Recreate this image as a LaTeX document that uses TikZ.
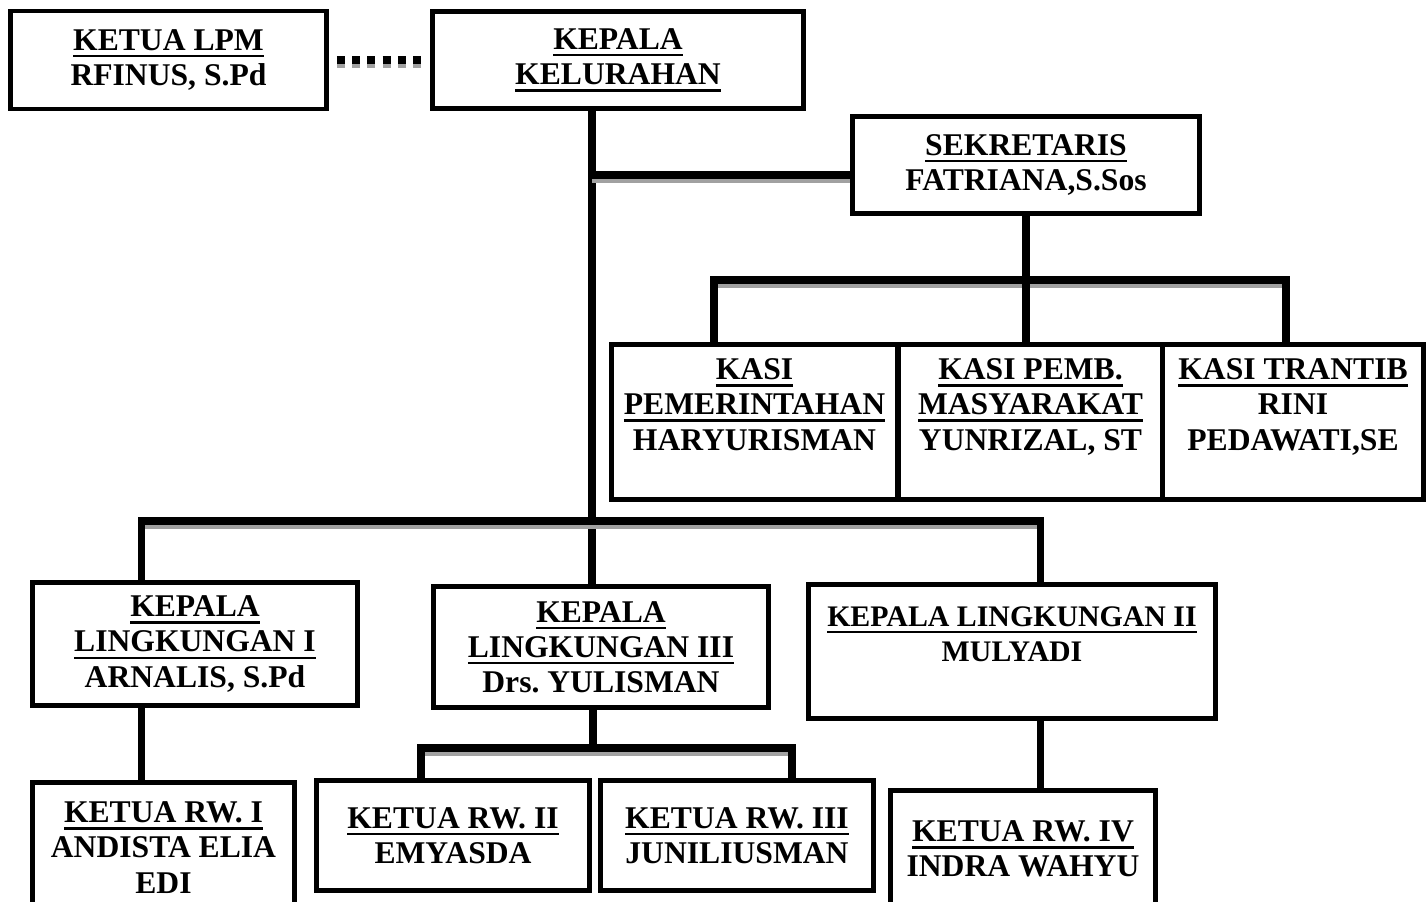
\documentclass[tikz,border=0pt]{standalone}
\usepackage{fontspec}
\setmainfont{Liberation Serif}
\frenchspacing
\newcommand{\orgul}[1]{\setbox0\hbox{#1}\rlap{\rule[-4pt]{\wd0}{1.4pt}}\box0}

\begin{document}
\begin{tikzpicture}[x=0.02cm, y=-0.02cm,
    box/.style={draw, line width=2.8pt, fill=white, align=center, inner sep=2pt,
      font=\bfseries\fontsize{18}{20}\selectfont},
    link/.style={line width=4.5pt},
    barshade/.style={line width=4.5pt, draw=black!37, transform canvas={yshift=-2.3pt}},
    dots/.style={line width=4.5pt, dash pattern=on 4.5pt off 4.2pt, shorten <=4.5pt, shorten >=4.5pt}]
        \useasboundingbox (0,0) rectangle (1427,902);
        \clip (0,0) rectangle (1427,902);

        \node[box, minimum width=6.32cm, minimum height=1.96cm] (lpm) at (168.5, 60) {\orgul{KETUA LPM}\\ RFINUS, S.Pd};
        \node[box, minimum width=7.42cm, minimum height=1.94cm] (kel) at (618, 60) {\orgul{KEPALA}\\ \orgul{KELURAHAN}};
        \node[box, minimum width=6.94cm, minimum height=1.94cm] (sek) at (1026, 165) {\orgul{SEKRETARIS}\\ FATRIANA,S.Sos};

        \node[box, minimum width=5.72cm, minimum height=3.1cm] (kasiA) at (754.5, 422) {\orgul{KASI}\\ \orgul{PEMERINTAHAN}\\ HARYURISMAN\\ \mbox{}};
        \node[box, minimum width=5.28cm, minimum height=3.1cm] (kasiB) at (1030.5, 422) {\orgul{KASI PEMB.}\\ \orgul{MASYARAKAT}\\ YUNRIZAL, ST\\ \mbox{}};
        \node[box, minimum width=5.22cm, minimum height=3.1cm] (kasiC) at (1293, 422) {\orgul{KASI TRANTIB}\\ RINI\\ PEDAWATI,SE\\ \mbox{}};

        \node[box, minimum width=6.5cm, minimum height=2.46cm] (lingI) at (195, 644) {\orgul{KEPALA}\\ \orgul{LINGKUNGAN I}\\ ARNALIS, S.Pd};
        \node[box, minimum width=6.7cm, minimum height=2.42cm] (lingIII) at (601, 647) {\orgul{KEPALA}\\ \orgul{LINGKUNGAN III}\\ Drs. YULISMAN};
        \node[box, minimum width=8.14cm, minimum height=2.68cm, font=\bfseries\fontsize{17}{20}\selectfont] (lingII) at (1012, 651.5) {\orgul{KEPALA LINGKUNGAN II}\\ MULYADI\\ \mbox{}};

        \node[box, minimum width=5.24cm, minimum height=2.6cm] (rwI) at (163.5, 847.5) {\orgul{KETUA RW. I}\\ ANDISTA ELIA\\ EDI};
        \node[box, minimum width=5.46cm, minimum height=2.2cm] (rwII) at (453, 835.5) {\orgul{KETUA RW. II}\\ EMYASDA};
        \node[box, minimum width=5.46cm, minimum height=2.2cm] (rwIII) at (737, 835.5) {\orgul{KETUA RW. III}\\ JUNILIUSMAN};
        \node[box, minimum width=5.3cm, minimum height=2.34cm] (rwIV) at (1023, 849) {\orgul{KETUA RW. IV}\\ INDRA WAHYU};

        \coordinate (jsek) at (592, 175);
        \coordinate (ka) at (714, 280);
        \coordinate (kc) at (1286, 280);
        \coordinate (l1) at (141.5, 521);
        \coordinate (l2) at (1040.5, 521);
        \coordinate (j3) at (593, 748);
        \coordinate (r2) at (421, 748);
        \coordinate (r3) at (792, 748);

        \draw[barshade, dots] (lpm.east) -- (kel.west);
        \draw[dots] (lpm.east) -- (kel.west);

        \draw[link] (kel.south -| jsek) -- (lingIII.north -| jsek);
        \draw[barshade] (jsek) -- (jsek -| sek.west);
        \draw[link] (jsek) -- (jsek -| sek.west);

        \draw[barshade] (ka) -- (kc);
        \draw[link] (sek.south) -- (sek.south |- kasiB.north);
        \draw[link] (kasiA.north -| ka) |- (kc) -- (kasiC.north -| kc);

        \draw[barshade] (l1) -- (l2);
        \draw[link] (lingI.north -| l1) |- (l2) -- (lingII.north -| l2);
        \draw[link] (lingI.south -| l1) -- (rwI.north -| l1);
        \draw[link] (lingII.south -| l2) -- (rwIV.north -| l2);

        \draw[link] (lingIII.south -| j3) -- (j3);
        \draw[barshade] (r2) -- (r3);
        \draw[link] (rwII.north -| r2) |- (r3) -- (rwIII.north -| r3);
    \end{tikzpicture}
\end{document}
